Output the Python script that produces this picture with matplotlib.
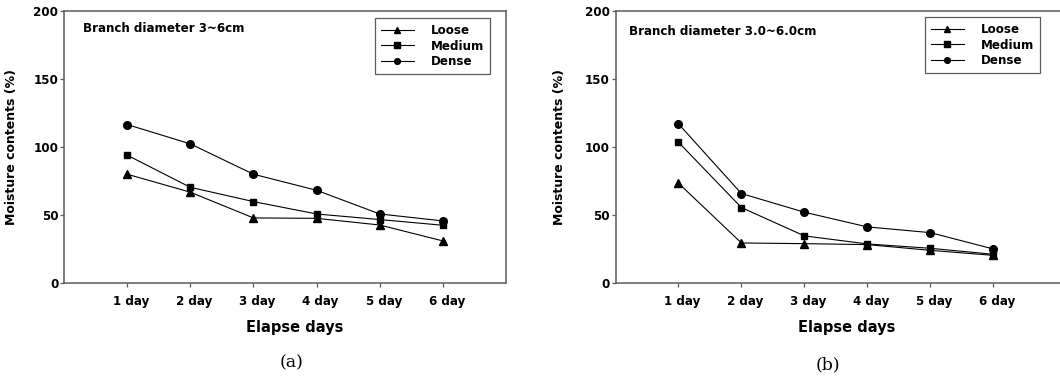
import matplotlib
matplotlib.use("Agg")
import matplotlib.pyplot as plt
from matplotlib.transforms import ScaledTranslation

plt.rcParams['font.family'] = 'DejaVu Sans'

days = [1, 2, 3, 4, 5, 6]
day_labels = ["1 day", "2 day", "3 day", "4 day", "5 day", "6 day"]
y_ticks = [0, 50, 100, 150, 200]

# (a) branch diameter 3~6cm
loose_a = [79.9, 66.7, 47.8, 47.5, 42.6, 30.9]
medium_a = [93.9, 70.3, 59.8, 50.7, 46.6, 42.4]
dense_a = [116.4, 102.2, 79.9, 68.1, 50.7, 45.6]

# (b) branch diameter 3.0~6.0cm
loose_b = [73.3, 29.4, 28.9, 28.2, 24.0, 20.3]
medium_b = [103.4, 55.4, 34.6, 28.7, 25.5, 21.1]
dense_b = [116.9, 65.7, 52.0, 41.2, 37.0, 25.0]

W, H = 1060, 376
fig = plt.figure(figsize=(W / 100, H / 100), dpi=100)

spine_c = "#5a5a5a"


def make_panel(rect, xmax, loose, medium, dense, note, note_xy, leg_anchor, xlab_x, ylab_px):
    ax = fig.add_axes(rect)
    ax.plot(days, loose, color="black", lw=0.8, marker="^", ms=5.5, label="Loose")
    ax.plot(days, medium, color="black", lw=0.8, marker="s", ms=5.0, label="Medium")
    ax.plot(days, dense, color="black", lw=0.8, marker="o", ms=5.5, label="Dense")
    ax.set_xlim(0, xmax)
    ax.set_ylim(0, 200)
    ax.set_xticks(days)
    ax.set_xticklabels(day_labels)
    ax.set_yticks(y_ticks)
    for s in ax.spines.values():
        s.set_color(spine_c)
        s.set_linewidth(1.1)
    ax.tick_params(axis="both", direction="out", length=3, width=0.9, color=spine_c,
                   labelsize=8.6)
    ax.tick_params(axis="x", pad=6)
    ax.tick_params(axis="y", pad=1)
    shift = ScaledTranslation(4 / 100, 0, fig.dpi_scale_trans)
    for lab in ax.get_xticklabels():
        lab.set_fontweight("bold")
        lab.set_transform(lab.get_transform() + shift)
    for lab in ax.get_yticklabels():
        lab.set_fontweight("bold")
    ax.set_xlabel("Elapse days", fontsize=10.5, fontweight="bold", labelpad=8)
    ax.xaxis.label.set_x(xlab_x)
    ax.set_ylabel("Moisture contents (%)", fontsize=9, fontweight="bold")
    ax.yaxis.set_label_coords((ylab_px - rect[0] * W) / (rect[2] * W), 0.5)
    ax.text(note_xy[0], note_xy[1], note, transform=ax.transAxes, fontsize=8.6,
            fontweight="bold", va="center", ha="left")
    leg = ax.legend(loc="upper right", bbox_to_anchor=leg_anchor, fontsize=8.6,
                    handlelength=2.8, handletextpad=1.4, labelspacing=0.22,
                    markerscale=0.75, borderpad=0.5, fancybox=False, framealpha=1,
                    borderaxespad=0)
    leg.get_frame().set_edgecolor(spine_c)
    leg.get_frame().set_linewidth(0.9)
    for t in leg.get_texts():
        t.set_fontweight("bold")
    return ax


bottom = (H - 283) / H
height = (283 - 10.7) / H

make_panel([64 / W, bottom, 442 / W, height], 7, loose_a, medium_a, dense_a,
           "Branch diameter 3~6cm", (0.043, 0.936), (0.964, 0.973), 0.523, 17.7)
make_panel([615.5 / W, bottom, 447 / W, height], 7.1, loose_b, medium_b, dense_b,
           "Branch diameter 3.0~6.0cm", (0.031, 0.923), (0.95, 0.977), 0.517, 566)

fig.text(292 / W, 1 - 363 / H, "(a)", family="DejaVu Serif", fontsize=12.5,
         ha="center", va="center")
fig.text(828 / W, 1 - 365 / H, "(b)", family="DejaVu Serif", fontsize=12.5,
         ha="center", va="center")

fig.savefig("out.png", dpi=100)
